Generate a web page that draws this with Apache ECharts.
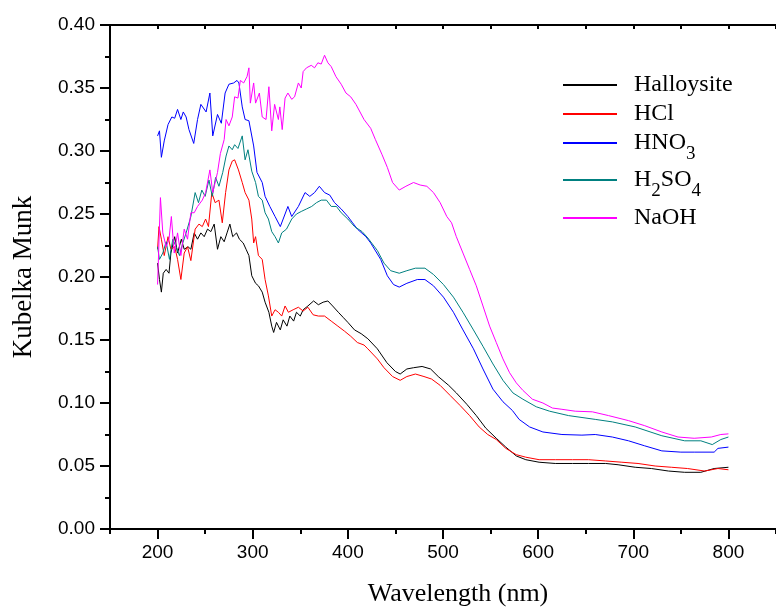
<!DOCTYPE html>
<html>
<head>
<meta charset="utf-8">
<script src="https://cdn.jsdelivr.net/npm/echarts@6/dist/echarts.min.js"></script>
<style>html,body{margin:0;padding:0;background:#fff}#c{width:776px;height:612px}</style>
</head>
<body>
<div id="c"></div>
<script>
// ---- data ----
const seriesNames = ['Halloysite', 'HCl', 'HNO3', 'H2SO4', 'NaOH'];
const seriesColors = ['#000000', '#ff0000', '#0000ff', '#008080', '#ff00ff'];

const halloysite = [[200,0.211],[202,0.198],[204,0.188],[206,0.203],[209,0.206],[212,0.203],[214,0.219],[218,0.232],[221,0.219],[225,0.230],[228,0.222],[232,0.224],[235,0.222],[238.5,0.235],[242,0.230],[245.5,0.235],[249,0.232],[252.5,0.238],[256,0.236],[259.5,0.242],[263,0.222],[266.5,0.232],[270,0.228],[273,0.235],[276,0.242],[279,0.232],[283,0.235],[286,0.230],[290,0.227],[293,0.222],[296,0.217],[299,0.201],[303,0.195],[306,0.193],[310,0.188],[313,0.180],[317,0.172],[320,0.161],[322,0.156],[325,0.164],[329,0.158],[332,0.166],[336,0.161],[339,0.169],[343,0.165],[346,0.172],[350,0.169],[353,0.174],[358,0.177],[364,0.181],[369,0.178],[374,0.180],[379,0.181],[384,0.177],[390,0.172],[395,0.168],[400,0.164],[407,0.158],[414,0.155],[421,0.151],[431,0.143],[441,0.132],[450,0.125],[455,0.123],[462,0.127],[469,0.128],[478,0.129],[487,0.127],[495,0.121],[506,0.114],[514,0.108],[525,0.099],[535,0.090],[545,0.080],[556,0.072],[566,0.065],[577,0.058],[587,0.055],[601,0.053],[618,0.052],[636,0.052],[653,0.052],[671,0.052],[684,0.051],[702,0.049],[719,0.048],[737,0.046],[754,0.045],[771,0.045],[785,0.048],[800,0.049]];

const hcl = [[200,0.222],[201.5,0.240],[204,0.230],[207,0.217],[211,0.232],[214,0.222],[218,0.224],[221,0.214],[224.5,0.198],[228,0.219],[231.5,0.224],[235,0.213],[239.5,0.238],[243.5,0.242],[247,0.240],[250.5,0.246],[253.5,0.240],[257,0.267],[260.5,0.259],[264.5,0.261],[268,0.243],[271.5,0.267],[275,0.285],[278.5,0.292],[281,0.293],[285,0.285],[289,0.275],[292,0.267],[296,0.261],[299,0.246],[301,0.227],[303,0.232],[306,0.217],[310,0.214],[313,0.198],[316.5,0.185],[320,0.169],[323.5,0.174],[327,0.172],[330.5,0.169],[334,0.177],[337.5,0.172],[342.5,0.174],[348,0.176],[353,0.173],[358,0.176],[363.5,0.170],[369,0.169],[375.5,0.169],[382.5,0.165],[389.5,0.161],[396.5,0.157],[403,0.153],[410,0.148],[417,0.146],[421,0.143],[431,0.135],[438,0.128],[447,0.121],[455,0.118],[462,0.121],[471,0.123],[480,0.121],[488,0.119],[497,0.114],[507.5,0.106],[518,0.098],[528,0.090],[538,0.081],[547,0.075],[556,0.071],[566,0.064],[577,0.059],[587,0.057],[601,0.055],[618,0.055],[636,0.055],[653,0.055],[671,0.054],[688,0.053],[705,0.052],[723,0.050],[740,0.049],[757,0.048],[775,0.046],[789,0.048],[800,0.047]];

const hno3 = [[200,0.312],[202,0.316],[204,0.295],[207,0.308],[211,0.321],[215,0.327],[218,0.326],[221,0.333],[224.5,0.325],[227,0.331],[230,0.327],[233,0.317],[238,0.306],[242,0.325],[245.5,0.337],[251,0.331],[255,0.346],[258,0.312],[263,0.329],[267,0.322],[271,0.346],[275,0.353],[280,0.354],[283.5,0.356],[285.5,0.354],[289,0.335],[292,0.325],[296,0.324],[301,0.304],[304.5,0.283],[310,0.275],[313,0.264],[318,0.256],[323.5,0.248],[329,0.240],[332,0.246],[337,0.256],[341,0.248],[348,0.256],[355,0.267],[360,0.264],[365,0.267],[370,0.272],[375.5,0.267],[381,0.265],[386,0.259],[393,0.254],[400,0.248],[405,0.243],[410,0.238],[419,0.232],[424,0.227],[434.5,0.214],[441.5,0.201],[448,0.194],[454,0.192],[462,0.195],[473,0.198],[481,0.198],[490,0.193],[500.5,0.184],[511,0.172],[521,0.158],[532,0.143],[542,0.127],[552.5,0.111],[563,0.101],[573,0.094],[580,0.087],[591,0.081],[605,0.077],[625,0.075],[646,0.0745],[660,0.075],[678,0.073],[695,0.070],[712,0.066],[730,0.062],[750,0.061],[764,0.061],[785,0.061],[789,0.064],[800,0.065]];

const h2so4 = [[200,0.224],[202,0.214],[205.5,0.219],[209,0.228],[212.5,0.214],[216,0.230],[219.5,0.224],[223,0.217],[226.5,0.227],[230,0.235],[235,0.248],[239.5,0.267],[243,0.259],[246.5,0.269],[250,0.264],[254,0.277],[257.5,0.264],[261,0.279],[264.5,0.272],[268.5,0.283],[272,0.296],[275,0.304],[278.5,0.301],[281,0.305],[284.5,0.302],[289,0.312],[292,0.293],[295,0.301],[299,0.284],[303,0.275],[306,0.264],[310,0.261],[313,0.251],[316.5,0.246],[320,0.236],[323.5,0.232],[327,0.227],[330.5,0.235],[335.5,0.238],[341,0.246],[346,0.250],[351,0.252],[356.5,0.254],[362,0.256],[367,0.259],[372,0.261],[377.5,0.261],[382.5,0.256],[388,0.256],[393,0.251],[400,0.246],[407,0.240],[415,0.236],[421,0.231],[431,0.221],[438,0.211],[445,0.205],[454,0.203],[462,0.205],[471,0.207],[481,0.207],[490,0.202],[500.5,0.194],[511,0.184],[521,0.172],[532,0.158],[542,0.145],[552.5,0.131],[563,0.118],[573.5,0.108],[584,0.103],[598,0.097],[612,0.0935],[632,0.090],[660,0.087],[678,0.085],[702,0.081],[730,0.074],[754,0.070],[771,0.070],[783,0.067],[792,0.071],[800,0.073]];

const naoh = [[200,0.194],[203,0.263],[205.5,0.235],[209,0.224],[212,0.230],[214.5,0.248],[217.5,0.219],[221,0.235],[224.5,0.217],[228,0.238],[231.5,0.230],[235,0.251],[238.5,0.251],[242,0.256],[247,0.261],[250.5,0.267],[255,0.285],[258,0.267],[263,0.283],[266,0.298],[270,0.309],[272,0.325],[275,0.320],[278.5,0.327],[281,0.343],[284.5,0.342],[287,0.356],[290.5,0.354],[294,0.359],[296,0.366],[297.5,0.338],[301,0.354],[303,0.338],[307,0.346],[310,0.327],[314,0.325],[317,0.351],[320,0.316],[323,0.337],[327,0.325],[328.5,0.335],[331,0.317],[334,0.342],[337,0.346],[341,0.341],[344,0.343],[348,0.354],[351,0.350],[353,0.363],[356.5,0.366],[361.5,0.368],[365,0.366],[368.5,0.370],[372,0.369],[375.5,0.376],[379,0.370],[382.5,0.367],[387.5,0.359],[393,0.353],[398,0.346],[403,0.343],[408.5,0.337],[417,0.325],[424,0.318],[429,0.309],[436,0.297],[441.5,0.287],[447,0.275],[454,0.269],[461,0.272],[469,0.275],[476,0.273],[483,0.272],[490,0.267],[497,0.259],[504,0.248],[509,0.243],[514,0.232],[521,0.219],[528,0.206],[535,0.193],[542,0.177],[549,0.161],[556,0.148],[563,0.135],[570,0.124],[577,0.116],[584,0.110],[594,0.103],[605,0.100],[615,0.096],[625,0.095],[639,0.0935],[657,0.093],[674,0.090],[695,0.086],[712,0.082],[730,0.077],[747,0.073],[764,0.072],[782,0.073],[792,0.075],[800,0.0755]];

const xTickLabels = [200, 300, 400, 500, 600, 700, 800];
const xRange = [150, 850];
const yRange = [0, 0.40];

// ---- chart ----
const dataSets = [halloysite, hcl, hno3, h2so4, naoh];
const serif = '"Liberation Serif","Times New Roman",serif';
const sans = '"Liberation Sans",Arial,sans-serif';
const legendRowCenters = [84, 113, 142, 179, 217];

function fmtName(n) {
  return n.replace(/([A-Za-z]+)|(\d+)/g, (t, a, d) => a ? '{m|' + a + '}' : '{s|' + d + '}');
}
const legendRich = {
  m: { fontFamily: serif, fontSize: 24, lineHeight: 42, color: '#000' },
  s: { fontFamily: serif, fontSize: 19, lineHeight: 20, verticalAlign: 'bottom', color: '#000' }
};

const chart = echarts.init(document.getElementById('c'), null, { renderer: 'canvas' });
const blackLine = { color: '#000', width: 2 };

chart.setOption({
  animation: false,
  backgroundColor: '#fff',
  grid: { left: 110, top: 25, right: -6, bottom: 82 },
  legend: seriesNames.map((n, i) => ({
    data: [n],
    orient: 'vertical',
    left: 562,
    top: legendRowCenters[i] - 11,
    padding: 0,
    itemWidth: 54,
    itemHeight: 14,
    selectedMode: false,
    itemStyle: { opacity: 0 },
    formatter: fmtName,
    textStyle: { padding: [0, 0, 0, 12], rich: legendRich }
  })),
  xAxis: [
    {
      type: 'value', position: 'bottom', min: xRange[0], max: xRange[1], interval: 50,
      axisLine: { show: true, lineStyle: blackLine },
      axisTick: { show: true, customValues: xTickLabels, length: 10, lineStyle: blackLine },
      axisLabel: { customValues: xTickLabels, fontFamily: sans, fontSize: 19, color: '#000', margin: 14 },
      splitLine: { show: false },
      name: 'Wavelength (nm)', nameLocation: 'middle', nameGap: 52, nameMoveOverlap: false,
      nameTextStyle: { fontFamily: serif, fontSize: 26, color: '#000', padding: [0, 0, 0, 30] }
    },
    {
      type: 'value', position: 'bottom', min: xRange[0], max: xRange[1], interval: 50,
      axisLine: { show: false },
      axisTick: { show: true, length: 5, lineStyle: blackLine },
      axisLabel: { show: false }, splitLine: { show: false }
    },
    {
      type: 'value', position: 'top', min: xRange[0], max: xRange[1], interval: 50,
      axisLine: { show: true, lineStyle: blackLine },
      axisTick: { show: true, inside: true, length: 4, lineStyle: blackLine },
      axisLabel: { show: false }, splitLine: { show: false }
    }
  ],
  yAxis: {
    type: 'value', min: yRange[0], max: yRange[1], interval: 0.05,
    axisLine: { show: true, lineStyle: blackLine },
    axisTick: { show: true, length: 10, lineStyle: blackLine },
    minorTick: { show: true, splitNumber: 2, length: 5, lineStyle: blackLine },
    axisLabel: { formatter: v => v.toFixed(2), fontFamily: sans, fontSize: 19, color: '#000', margin: 15 },
    splitLine: { show: false },
    name: 'Kubelka Munk', nameLocation: 'middle', nameGap: 73, nameMoveOverlap: false,
    nameTextStyle: { fontFamily: serif, fontSize: 27, color: '#000' }
  },
  series: seriesNames.map((n, i) => ({
    name: n, type: 'line', data: dataSets[i], symbol: 'none', showSymbol: false,
    lineStyle: { width: 1, color: seriesColors[i] },
    itemStyle: { color: seriesColors[i] },
    emphasis: { disabled: true }
  }))
});
</script>
</body>
</html>
